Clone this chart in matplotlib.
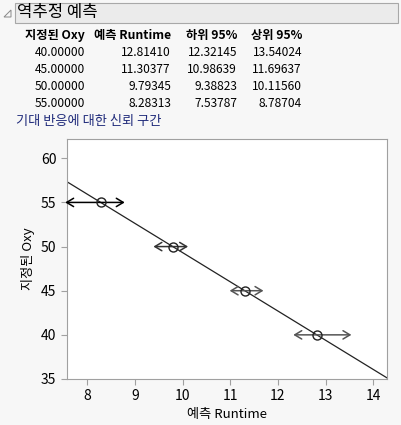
import numpy as np
import matplotlib
matplotlib.use("Agg")
import matplotlib.pyplot as plt
from matplotlib.patches import Rectangle, Polygon

plt.rcParams['font.family'] = ['Noto Sans CJK KR', 'DejaVu Sans']

oxy = [40.0, 45.0, 50.0, 55.0]
pred_runtime = [12.81410, 11.30377, 9.79345, 8.28313]
lower95 = [12.32145, 10.98639, 9.38823, 7.53787]
upper95 = [13.54024, 11.69637, 10.11560, 8.78704]
col_headers = ["지정된 Oxy", "예측 Runtime", "하위 95%", "상위 95%"]
arrow_colors = ["#555555", "#555555", "#333333", "#000000"]

W, H = 402, 425
fig = plt.figure(figsize=(W / 100, H / 100), dpi=100, facecolor="#f7f7f7")


def px(x, y):
    return x / W, 1 - y / H


# header bar
hx, hy = px(15, 23)
fig.patches.append(Rectangle((hx, hy), (398 - 15) / W, 20 / H, transform=fig.transFigure,
                             facecolor="#ebebeb", edgecolor="#a8a8a8", lw=0.8))
tri = np.array([[4, 17], [11, 10], [11, 17]], dtype=float)
fig.patches.append(Polygon([px(a, b) for a, b in tri], closed=True, transform=fig.transFigure,
                           facecolor="none", edgecolor="#888888", lw=0.7))
fig.text(*px(17, 13), "역추정 예측", fontsize=12, va="center", ha="left", color="black")

# table
col_right = [85, 171, 237, 302]
for cx, h in zip(col_right, col_headers):
    fig.text(*px(cx, 35), h, fontsize=8.8, fontweight="bold", ha="right", va="center")
rows = list(zip(oxy, pred_runtime, lower95, upper95))
for i, row in enumerate(rows):
    y = 52.3 + i * 17.2
    for cx, v in zip(col_right, row):
        fig.text(*px(cx, y), f"{v:.5f}", fontsize=8.6, ha="right", va="center")
fig.text(*px(16, 122), "기대 반응에 대한 신뢰 구간", fontsize=9.5, ha="left", va="center",
         color="#1f2a7a")

# plot
ax = fig.add_axes([66.7 / W, (H - 379) / H, 320 / W, 239.7 / H])
ax.set_facecolor("white")
for s in ax.spines.values():
    s.set_color("#a0a0a0")

slope, icpt = np.polyfit(pred_runtime, oxy, 1)
xs = np.array([7.0, 15.0])
ax.plot(xs, slope * xs + icpt, color="#222222", lw=0.9, zorder=2)

for y, lo, hi, c in zip(oxy, lower95, upper95, arrow_colors):
    ax.annotate("", xy=(hi, y), xytext=(lo, y),
                arrowprops=dict(arrowstyle="<->,head_length=0.5,head_width=0.3",
                                color=c, lw=1.1, shrinkA=0, shrinkB=0), zorder=3)
ax.plot(pred_runtime, oxy, linestyle="none", marker="o", markersize=6.5,
        markerfacecolor="none", markeredgecolor="#222222", mew=1.0, zorder=4)

ax.set_xlim(7.57, 14.28)
ax.set_ylim(35, 62.15)
ax.set_xticks([8, 9, 10, 11, 12, 13, 14])
ax.set_yticks([35, 40, 45, 50, 55, 60])
ax.tick_params(colors="#a0a0a0", labelcolor="black", labelsize=10, length=4)
ax.set_xlabel("예측 Runtime", fontsize=9.5, labelpad=3)
ax.set_ylabel("지정된 Oxy", fontsize=9.5, labelpad=4)

fig.savefig("out.png", dpi=100, facecolor=fig.get_facecolor())
